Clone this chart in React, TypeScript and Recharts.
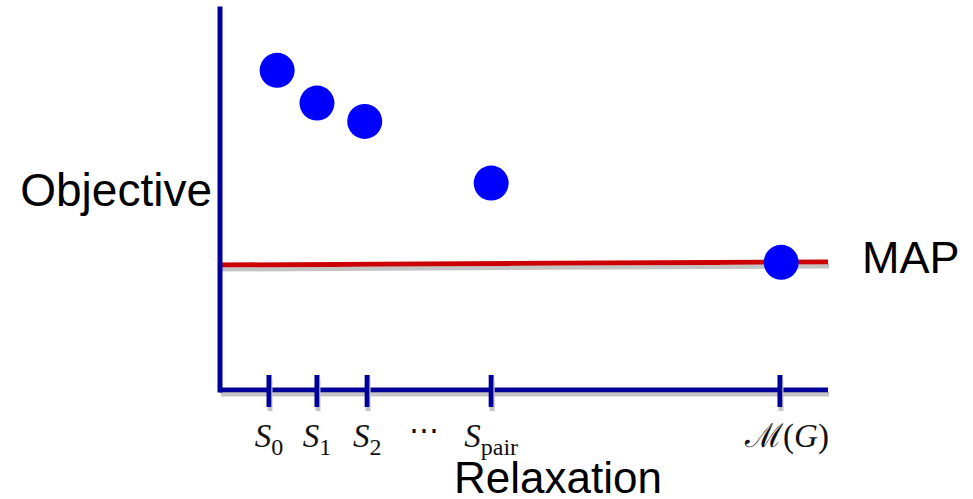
import React from "react";
import { ComposedChart, XAxis, YAxis, Line, Scatter, Label } from "recharts";

// positions on a 0-100 scale
const relaxX = [9.4, 15.95, 23.8, 44.6, 92.3];
const objectiveY = [83.9, 75.3, 70.5, 54.3, 33.5];

const mapX = [0, 100];
const mapY = [32.8, 33.6];

const tickPositions = [8.06, 15.95, 24.2, 33.55, 44.6, 92.1];
const tickLabels = ["S_0", "S_1", "S_2", "⋯", "S_pair", "ℳ(G)"];

const NAVY = "#000099";
const SANS = "'Liberation Sans', Arial, sans-serif";
const SERIF = "'Liberation Serif', 'DejaVu Serif', serif";

const points = relaxX.map((x, i) => ({ x, y: objectiveY[i] }));
const mapLine = mapX.map((x, i) => ({ x, y: mapY[i] }));

const MathTick = (props: any) => {
  const { x, y, payload } = props;
  const i = tickPositions.indexOf(payload.value);
  const lbl = tickLabels[i] ?? "";
  if (lbl === "⋯") {
    return (
      <text x={x} y={y + 50} textAnchor="middle" fontFamily={SERIF} fontSize={30} fill="#111">
        ⋯
      </text>
    );
  }
  let content: React.ReactNode;
  if (lbl.startsWith("S_")) {
    content = (
      <>
        <tspan fontStyle="italic">S</tspan>
        <tspan fontSize={24} dy={8}>{lbl.slice(2)}</tspan>
      </>
    );
  } else {
    content = (
      <>
        <tspan>ℳ</tspan>
        <tspan>(</tspan>
        <tspan fontStyle="italic">G</tspan>
        <tspan>)</tspan>
      </>
    );
  }
  return (
    <g>
      <line x1={x} x2={x} y1={y - 15} y2={y + 17} stroke={NAVY} strokeWidth={5} filter="url(#sh)" />
      <text x={lbl.startsWith("S_") ? x : x + 7} y={y + 57} textAnchor="middle" fontFamily={SERIF} fontSize={33} fill="#111">
        {content}
      </text>
    </g>
  );
};

const renderMapLabel = (props: any) => {
  const { x, y, index } = props;
  if (index !== mapLine.length - 1) return null;
  return (
    <text x={x + 34} y={y + 11} fontFamily={SANS} fontSize={45} fill="#000">
      MAP
    </text>
  );
};

const Dot = (props: any) => <circle cx={props.cx} cy={props.cy} r={17.5} fill="#0000ff" />;

export default function App() {
  return (
    <div style={{ position: "absolute", left: 0, top: 0, background: "#fff" }}>
      <ComposedChart width={973} height={499} margin={{ top: 9, right: 145, bottom: 0, left: 0 }}>
        <defs>
          <filter id="sh" filterUnits="userSpaceOnUse" x={0} y={0} width={973} height={499}>
            <feDropShadow dx={1} dy={4} stdDeviation={0.5} floodColor="#c4c4c4" floodOpacity={1} />
          </filter>
        </defs>
        <XAxis
          type="number"
          dataKey="x"
          domain={[0, 100]}
          ticks={tickPositions}
          interval={0}
          height={109}
          tickSize={0}
          tickMargin={0}
          tickLine={false}
          tick={<MathTick />}
          axisLine={{ stroke: NAVY, strokeWidth: 5, filter: "url(#sh)" }}
        >
          <Label
            content={(p: any) => {
              const vb = p.viewBox;
              return (
                <text x={vb.x + vb.width / 2 + 34} y={vb.y + 103} textAnchor="middle" fontFamily={SANS} fontSize={44} fill="#000">
                  Relaxation
                </text>
              );
            }}
          />
        </XAxis>
        <YAxis
          type="number"
          dataKey="y"
          domain={[0, 100]}
          width={220}
          tick={false}
          tickLine={false}
          axisLine={{ stroke: NAVY, strokeWidth: 5, strokeLinecap: "square" }}
        >
          <Label
            content={(p: any) => {
              const vb = p.viewBox;
              return (
                <text x={vb.x + vb.width - 8} y={vb.y + vb.height / 2 + 6.5} textAnchor="end" fontFamily={SANS} fontSize={46} fill="#000">
                  Objective
                </text>
              );
            }}
          />
        </YAxis>
        <Line
          data={mapLine}
          dataKey="y"
          stroke="#cc0000"
          strokeWidth={5}
          dot={false}
          filter="url(#sh)"
          label={renderMapLabel}
          isAnimationActive={false}
        />
        <Scatter data={points} dataKey="y" shape={<Dot />} isAnimationActive={false} />
      </ComposedChart>
    </div>
  );
}
